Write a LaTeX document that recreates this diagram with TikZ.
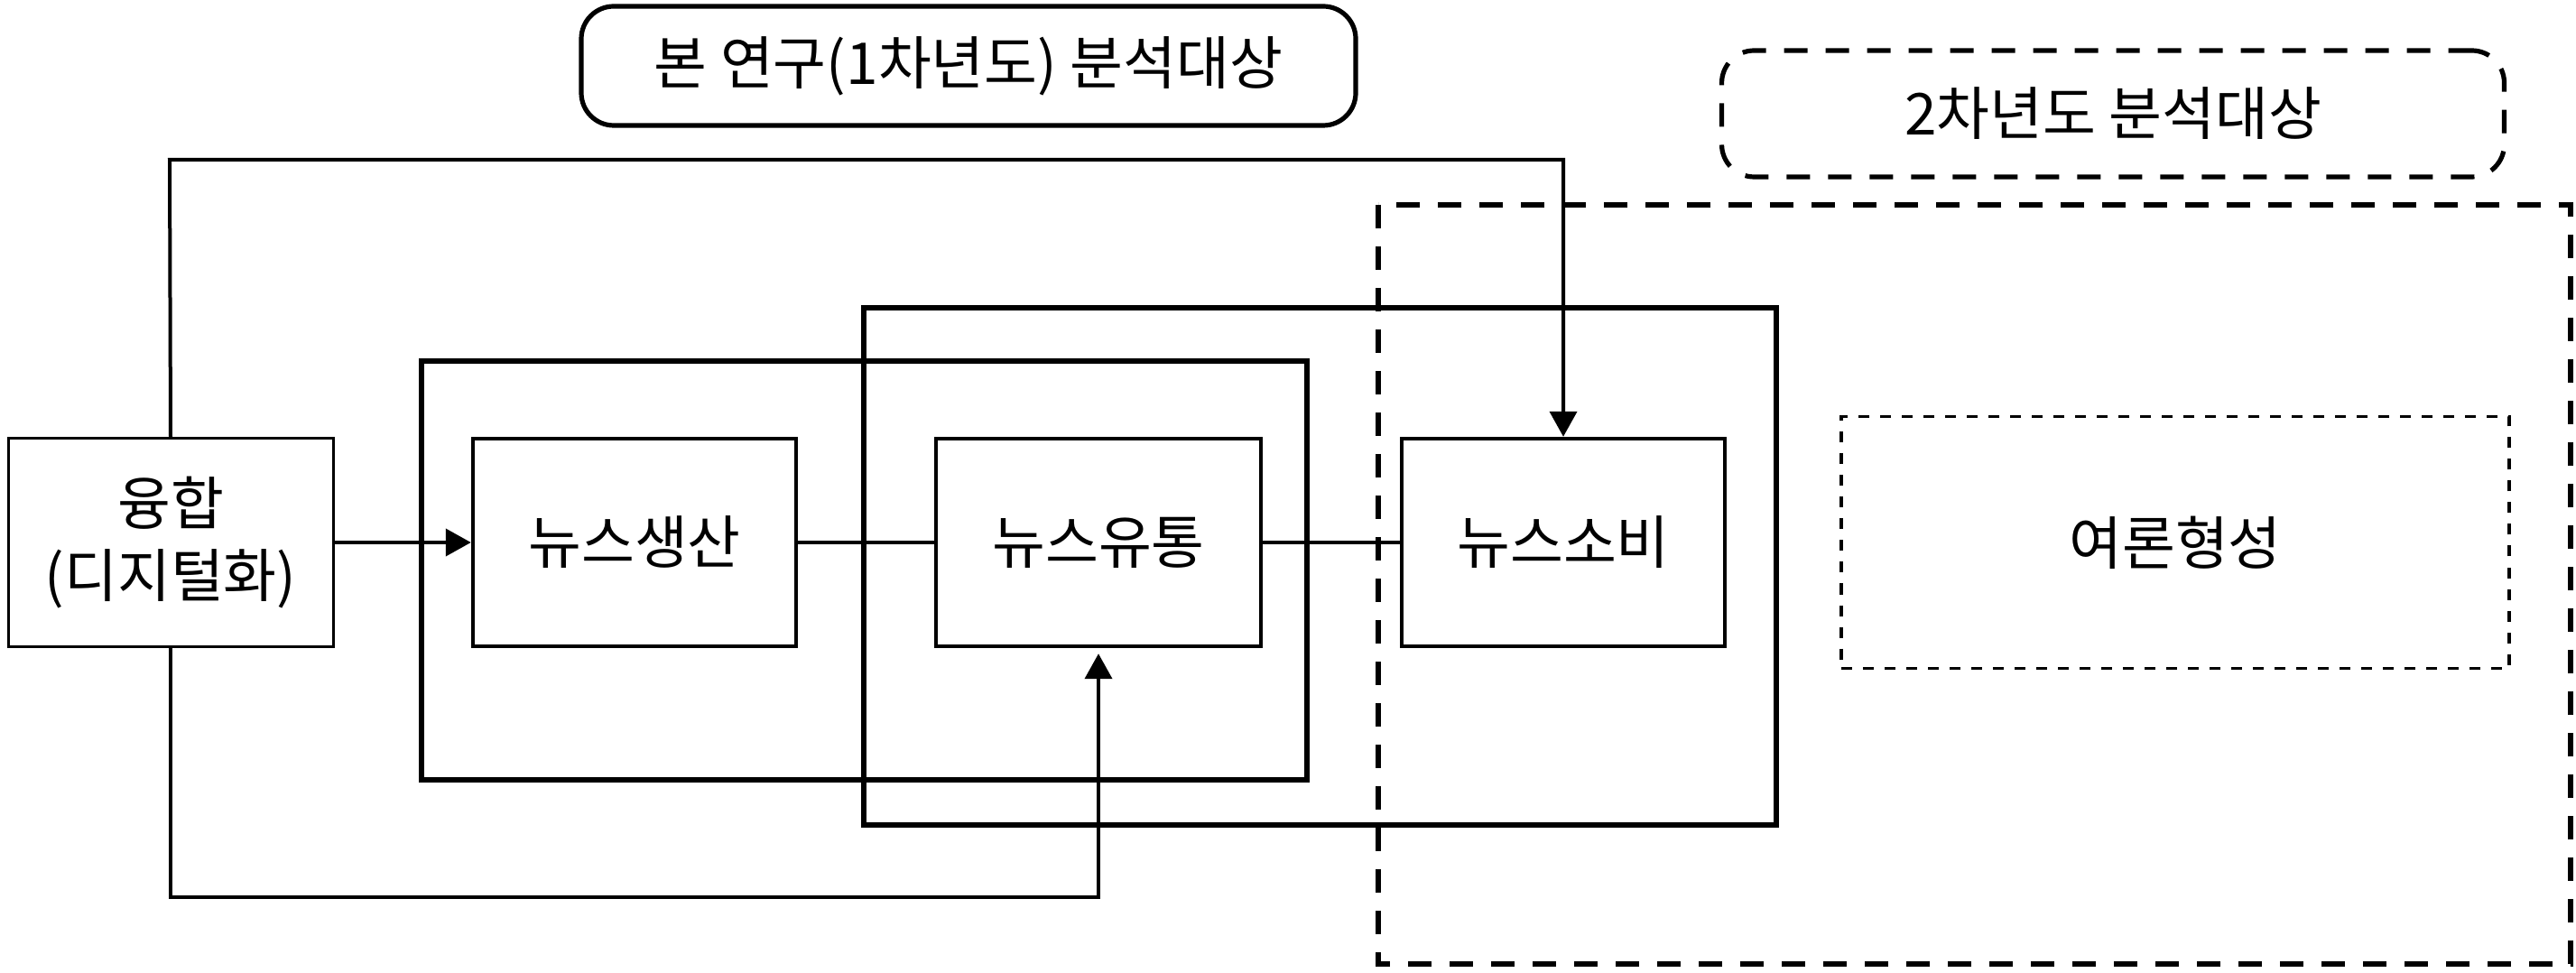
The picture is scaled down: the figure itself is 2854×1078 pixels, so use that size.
\documentclass[tikz,border=0pt]{standalone}
\usepackage{fontspec}
\newfontfamily\kr{Noto Sans CJK KR}
\usetikzlibrary{arrows.meta}
\tikzset{
  lbl/.style={font=\kr\fontsize{16pt}{20pt}\selectfont, align=center, inner sep=0pt},
  inbox/.style={lbl, draw, line width=1.1pt, minimum height=57.5pt},
  outbox/.style={draw, line width=1.4pt},
  conn/.style={line width=1pt},
  arr/.style={conn, -{Triangle[length=7pt,width=7.5pt]}},
  bigdash/.style={draw, line width=1.3pt, dash pattern=on 6.5pt off 5pt},
  dotbox/.style={draw, line width=0.8pt, dash pattern=on 3pt off 3pt},
}
\begin{document}
\begin{tikzpicture}[x=0.25pt,y=-0.25pt]
\useasboundingbox (0,0) rectangle (2854,1078);
% frames
\draw[outbox] (467,400) rectangle (1448,864);
\draw[outbox] (957,341) rectangle (1968,914);
\draw[bigdash] (1527,227) rectangle (2848,1068);
% title boxes
\node[lbl, draw, line width=1.3pt, rounded corners=9pt, minimum width=214.5pt, minimum height=33pt] (t1) at (1073,73) {본 연구(1차년도) 분석대상};
\node[lbl, bigdash, rounded corners=9pt, minimum width=216.75pt, minimum height=35pt] (t2) at (2341,126) {2차년도 분석대상};
% main nodes
\node[lbl, draw, line width=0.75pt, minimum width=90pt, minimum height=57.5pt] (fus) at (189,601) {융합\\(디지털화)};
\node[inbox, minimum width=89.5pt] (prod) at (703,601) {뉴스생산};
\node[inbox, minimum width=90pt] (dist) at (1217,601) {뉴스유통};
\node[inbox, minimum width=89.5pt] (cons) at (1732,601) {뉴스소비};
\node[lbl, dotbox, minimum width=185pt, minimum height=69.75pt] (opin) at (2410,601) {여론형성};
% connectors
\draw[arr] (fus.east) -- (prod.west);
\draw[conn] (prod.east) -- (dist.west);
\draw[conn] (dist.east) -- (cons.west);
\coordinate (ta) at (188,177);
\coordinate (tb) at (1732,177);
\draw[arr] (fus.north) -- (ta) -- (tb) -- (cons.north);
\coordinate (ba) at (189,994);
\coordinate (bb) at (1217,994);
\draw[arr, shorten >=1.5pt] (fus.south) -- (ba) -- (bb) -- (dist.south);
\end{tikzpicture}
\end{document}
